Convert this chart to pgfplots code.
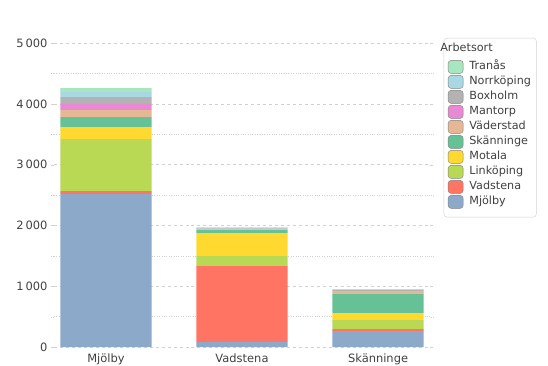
\documentclass[border=0pt]{standalone}
\usepackage{pgfplots}
\pgfplotsset{compat=1.18}
\usepackage{fontspec}
\setmainfont{DejaVu Sans}
\definecolor{cMjolby}{HTML}{8DA9C9}
\definecolor{cVadstena}{HTML}{FF7462}
\definecolor{cLinkoping}{HTML}{B9D854}
\definecolor{cMotala}{HTML}{FFD92F}
\definecolor{cSkanninge}{HTML}{66C296}
\definecolor{cVaderstad}{HTML}{E5B794}
\definecolor{cMantorp}{HTML}{E78AD3}
\definecolor{cBoxholm}{HTML}{B3B3B3}
\definecolor{cNorrkoping}{HTML}{A8D8E3}
\definecolor{cTranas}{HTML}{A8E6BF}
\definecolor{txt}{HTML}{404040}
\begin{document}
\begin{tikzpicture}[x=1bp,y=1bp]
\useasboundingbox (0,0) rectangle (548,365);
\begin{axis}[
  at={(54bp,18bp)}, anchor=south west, scale only axis,
  width=376bp, height=313bp,
  xmin=-0.382, xmax=2.382, ymin=0, ymax=5150,
  ybar stacked, bar width=0.67,
  axis line style={draw=none},
  xtick={0,1,2}, xticklabels={Mjölby,Vadstena,Skänninge},
  major x tick style={draw=none},
  ytick={0,1000,...,5000}, minor ytick={500,1500,...,4500},
  ymajorgrids, yminorgrids,
  major grid style={dashed, color=black!18},
  minor grid style={dotted, color=black!18},
  tick align=outside, major tick length=3bp, minor tick length=3bp,
  y tick style={color=black!18},
  minor y tick style={dotted},
  tick label style={font=\fontsize{11.5}{13}\selectfont, color=txt},
  /pgf/number format/.cd, 1000 sep={\,}, assume math mode=true, /pgfplots/.cd,
  legend style={at={(1.0365,0.9875)}, anchor=north west, draw=black!18, rounded corners=3bp,
    font=\fontsize{11.25}{13}\selectfont, text=txt, cells={anchor=west},
    row sep=1.6bp, column sep=4bp, inner xsep=4bp, inner ysep=8.5bp,
    nodes={inner ysep=0bp, text height=9bp, text depth=3bp}},
  reverse legend,
  legend image code/.code={\draw[#1,draw=black!50] (0bp,-6.5bp) rectangle (15bp,6.5bp);},
]
\addplot[fill=cMjolby, draw=none] coordinates {(0,2516) (1,86) (2,263)};
\addlegendentry{Mjölby}
\addplot[fill=cVadstena, draw=none] coordinates {(0,50) (1,1251) (2,33)};
\addlegendentry{Vadstena}
\addplot[fill=cLinkoping, draw=none] coordinates {(0,855) (1,160) (2,148)};
\addlegendentry{Linköping}
\addplot[fill=cMotala, draw=none] coordinates {(0,197) (1,378) (2,115)};
\addlegendentry{Motala}
\addplot[fill=cSkanninge, draw=none] coordinates {(0,165) (1,49) (2,313)};
\addlegendentry{Skänninge}
\addplot[fill=cVaderstad, draw=none] coordinates {(0,115) (1,12) (2,33)};
\addlegendentry{Väderstad}
\addplot[fill=cMantorp, draw=none] coordinates {(0,104) (1,4) (2,9)};
\addlegendentry{Mantorp}
\addplot[fill=cBoxholm, draw=none] coordinates {(0,110) (1,10) (2,24)};
\addlegendentry{Boxholm}
\addplot[fill=cNorrkoping, draw=none] coordinates {(0,82) (1,10) (2,9)};
\addlegendentry{\makebox[61bp][l]{Norrköping}}
\addplot[fill=cTranas, draw=none] coordinates {(0,66) (1,8) (2,7)};
\addlegendentry{Tranås}
\addlegendimage{empty legend}
\addlegendentry{\hspace{-29bp}\raisebox{4bp}{Arbetsort}}
\end{axis}
\end{tikzpicture}
\end{document}
